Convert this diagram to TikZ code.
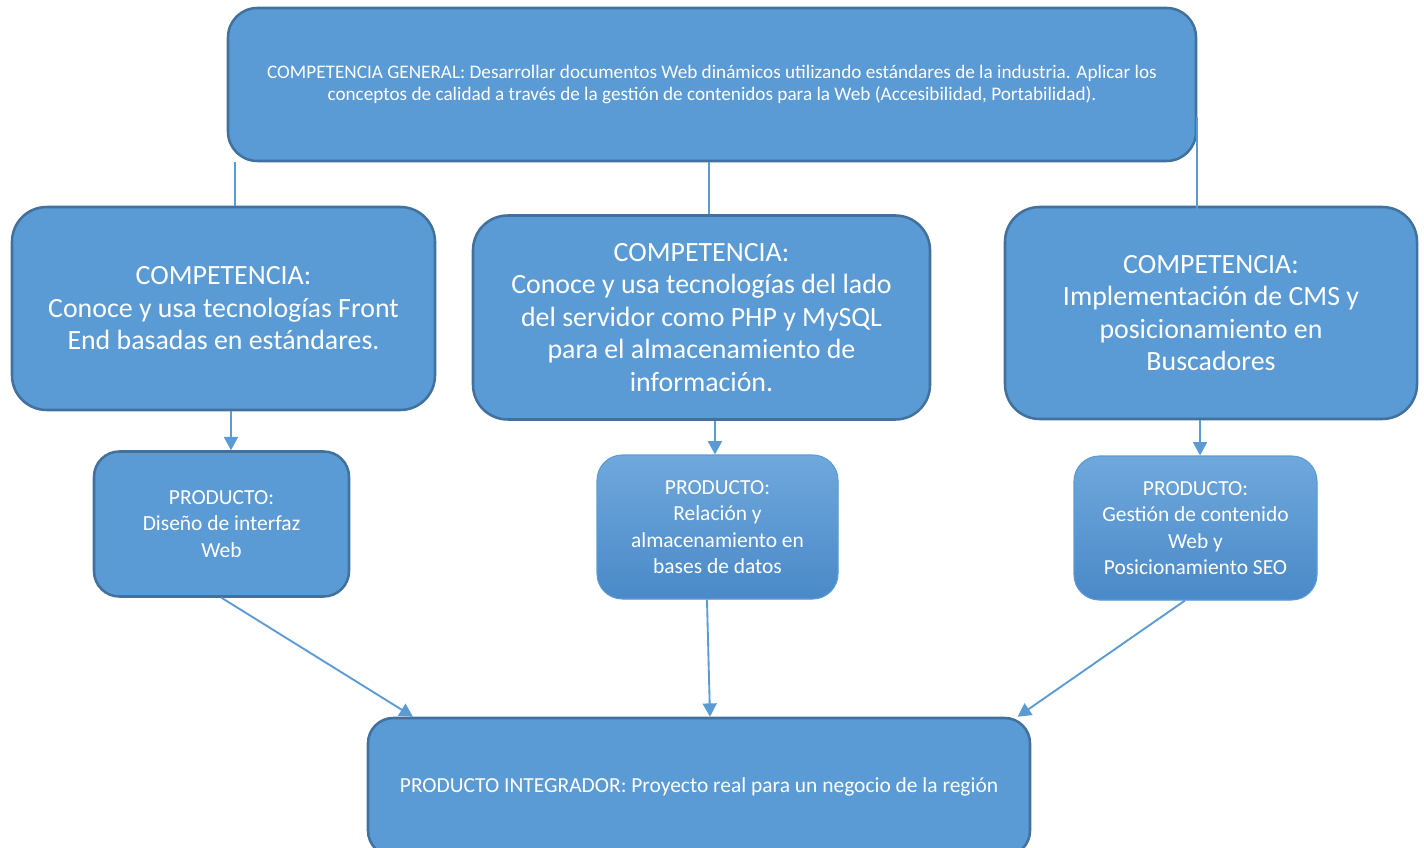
\documentclass[tikz,border=0pt]{standalone}
\usepackage{fontspec}
\setmainfont{Carlito}
\usetikzlibrary{arrows.meta, positioning}
\definecolor{boxblue}{HTML}{5B9BD5}
\definecolor{edgeblue}{HTML}{41719C}
\definecolor{gradtop}{HTML}{6FA8DC}
\definecolor{gradbot}{HTML}{4A89C8}

\begin{document}
\begin{tikzpicture}[x=0.75pt, y=-0.75pt,
        compbox/.style={rectangle, rounded corners=26pt, draw=edgeblue, line width=1.9pt, fill=boxblue, text=white, align=center},
        prodbox/.style={compbox, rounded corners=19pt},
        gradbox/.style={prodbox, draw=boxblue, line width=0.8pt, top color=gradtop, bottom color=gradbot},
        link/.style={draw=boxblue, line width=1.4pt},
        arrowlink/.style={link, -{Triangle[width=10.5pt, length=10pt]}}]
        \useasboundingbox (0,0) rectangle (1424,848);

        \node at (712,84.5) [compbox, rounded corners=22pt, minimum width=726pt, minimum height=114.75pt, font=\fontsize{14.4}{16.5}\selectfont] (general) {COMPETENCIA GENERAL: Desarrollar documentos Web dinámicos utilizando estándares de la industria. Aplicar los\\conceptos de calidad a través de la gestión de contenidos para la Web (Accesibilidad, Portabilidad).};

        \node at (223.5,308.5) [compbox, minimum width=317.25pt, minimum height=152.25pt, font=\fontsize{20.9}{24.4}\selectfont] (frontend) {COMPETENCIA:\\Conoce y usa tecnologías Front\\End basadas en estándares.};
        \node at (701.5,317.5) [compbox, minimum width=342.75pt, minimum height=153pt, font=\fontsize{20.9}{24.4}\selectfont] (servidor) {COMPETENCIA:\\Conoce y usa tecnologías del lado\\del servidor como PHP y MySQL\\para el almacenamiento de\\información.};
        \node at (1211,313) [compbox, minimum width=309pt, minimum height=159pt, font=\fontsize{20.9}{24.4}\selectfont] (cms) {COMPETENCIA:\\Implementación de CMS y\\posicionamiento en\\Buscadores};

        \node at (221.5,524) [prodbox, minimum width=191.25pt, minimum height=108.75pt, font=\fontsize{16.1}{19.9}\selectfont] (interfaz) {PRODUCTO:\\Diseño de interfaz\\Web};
        \node at (717.5,527) [gradbox, minimum width=180.75pt, minimum height=108pt, font=\fontsize{16.1}{19.9}\selectfont] (datos) {PRODUCTO:\\Relación y\\almacenamiento en\\bases de datos};
        \node at (1195.5,528) [gradbox, minimum width=182.25pt, minimum height=108pt, font=\fontsize{16.1}{19.9}\selectfont] (seo) {PRODUCTO:\\Gestión de contenido\\Web y\\Posicionamiento SEO};

        \node at (699,787) [prodbox, minimum width=496.5pt, minimum height=103.5pt, font=\fontsize{16.1}{19.9}\selectfont] (integrador) {PRODUCTO INTEGRADOR: Proyecto real para un negocio de la región};

        % competencia general a competencias
        \draw[link] ([xshift=8.6pt]frontend.north |- general.south) -- ([xshift=8.6pt]frontend.north);
        \draw[link] ([xshift=5.6pt]servidor.north |- general.south) -- ([xshift=5.6pt]servidor.north);
        \draw[link] ([yshift=-24.4pt]general.east) -- ([yshift=-24.4pt]general.east |- cms.north);

        % competencias a productos
        \draw[arrowlink] ([xshift=7.1pt]interfaz.north |- frontend.south) -- ([xshift=7.1pt]interfaz.north);
        \draw[arrowlink] ([xshift=-1.9pt]datos.north |- servidor.south) -- ([xshift=-1.9pt]datos.north);
        \draw[arrowlink] ([xshift=3.4pt]seo.north |- cms.south) -- ([xshift=3.4pt]seo.north);

        % productos al integrador
        \draw[arrowlink] (interfaz.south) -- ([xshift=-214.5pt]integrador.north);
        \draw[arrowlink] ([xshift=-7.9pt]datos.south) -- ([xshift=8.25pt]integrador.north);
        \draw[arrowlink] ([xshift=-7.9pt]seo.south) -- ([xshift=239pt]integrador.north);
\end{tikzpicture}
\end{document}
